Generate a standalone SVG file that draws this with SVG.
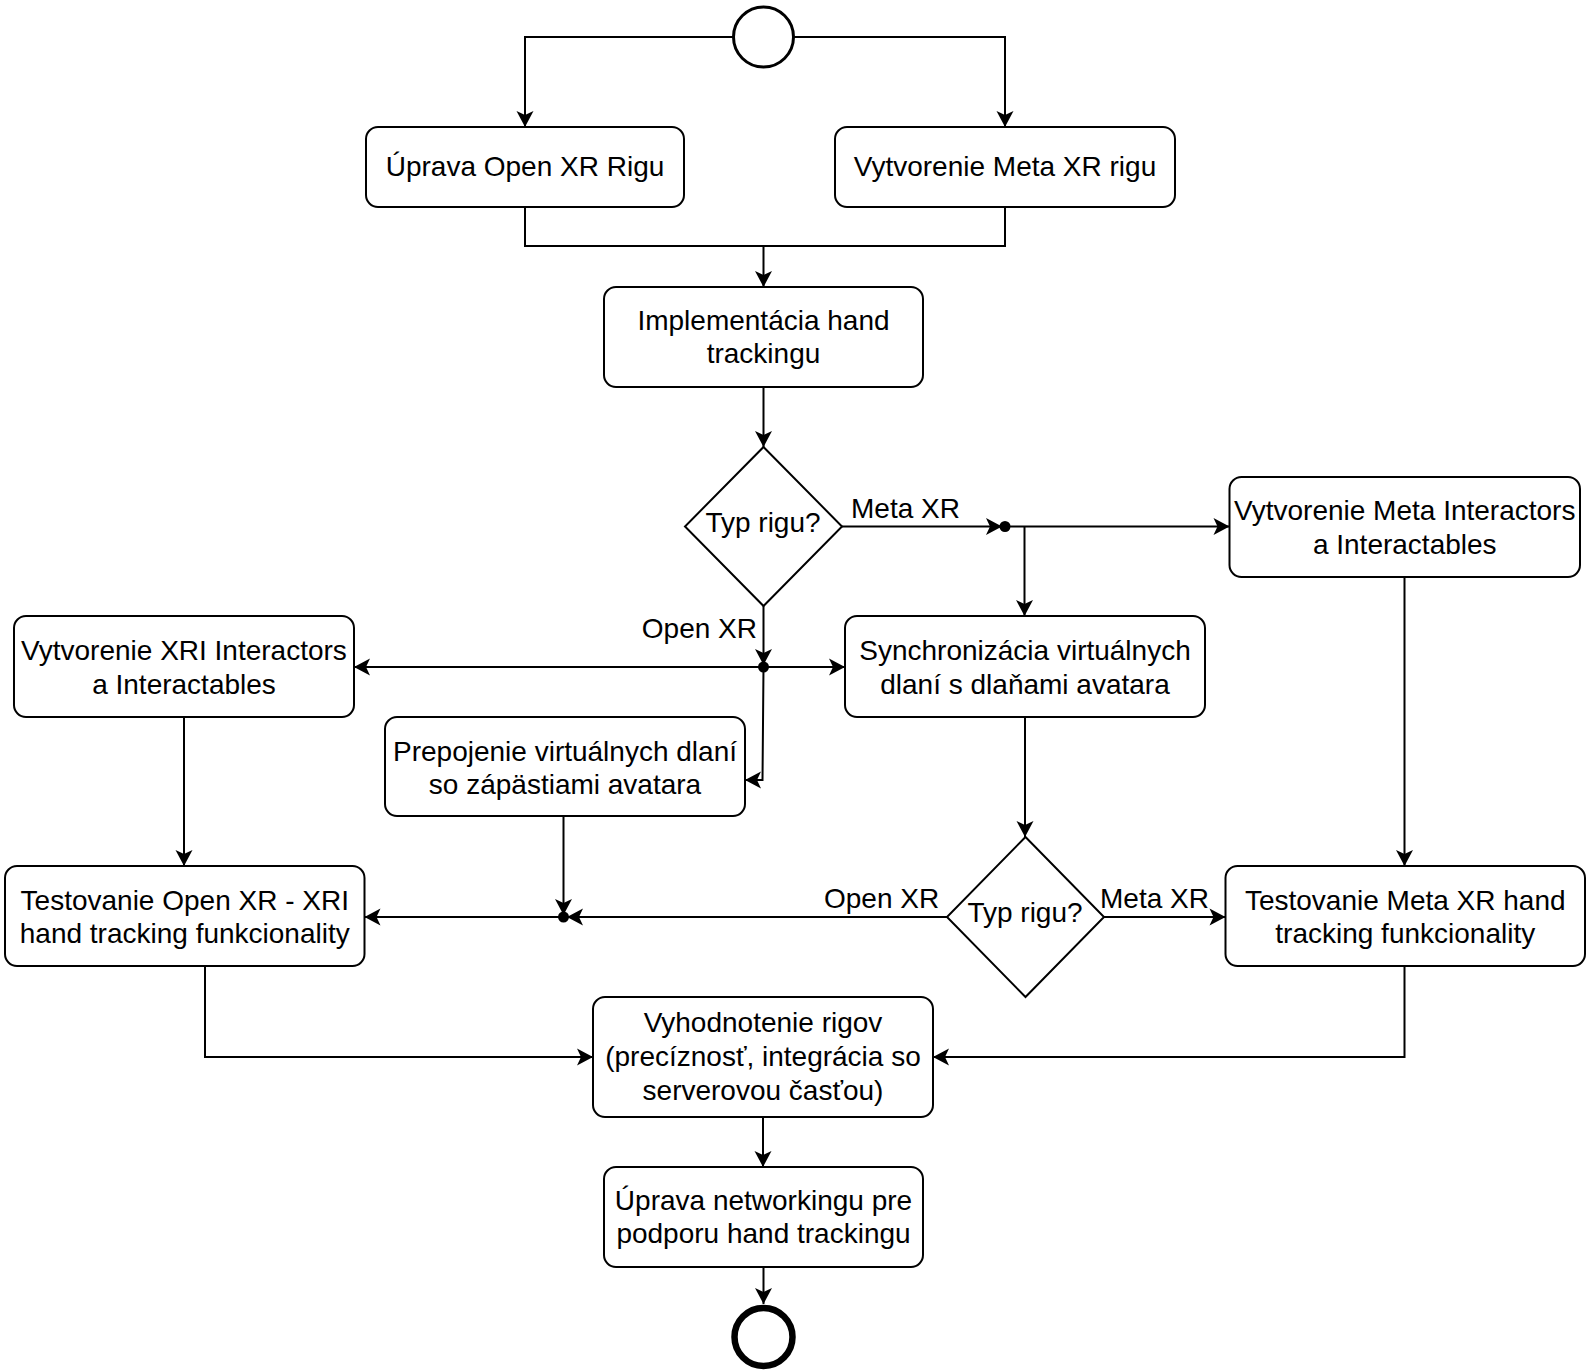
<svg xmlns="http://www.w3.org/2000/svg" width="1592" height="1372" viewBox="0 0 1592 1372">
<style>
.box{fill:#fff;stroke:#000;stroke-width:2}
.t{font-family:"Liberation Sans",Arial,sans-serif;font-size:28px;fill:#000;text-anchor:middle}
.l{font-family:"Liberation Sans",Arial,sans-serif;font-size:28px;fill:#000}
.c{fill:none;stroke:#000;stroke-width:2}
</style>
<defs>
<marker id="arr" viewBox="-17 -9 18 18" refX="0" refY="0" markerWidth="18" markerHeight="18" markerUnits="userSpaceOnUse" orient="auto">
<path d="M0,0 L-16,-8.5 L-12,0 L-16,8.5 Z" fill="#000"/>
</marker>
</defs>
<rect width="1592" height="1372" fill="#fff"/>
<g id="connectors">
<path class="c" d="M733.5,37 H525 V127" marker-end="url(#arr)"/>
<path class="c" d="M793.5,37 H1005 V127" marker-end="url(#arr)"/>
<path class="c" d="M525,207 V246 H1005 V207"/>
<path class="c" d="M763.5,246 V287" marker-end="url(#arr)"/>
<path class="c" d="M763.5,387 V447" marker-end="url(#arr)"/>
<path class="c" d="M842,526.5 H1002" marker-end="url(#arr)"/>
<path class="c" d="M1005,526.5 H1229.5" marker-end="url(#arr)"/>
<path class="c" d="M1024.5,526.5 V616" marker-end="url(#arr)"/>
<path class="c" d="M763.5,606 V665" marker-end="url(#arr)"/>
<path class="c" d="M763.5,667 H354" marker-end="url(#arr)"/>
<path class="c" d="M763.5,667 H845" marker-end="url(#arr)"/>
<path class="c" d="M763.5,667 L762.5,780 H745" marker-end="url(#arr)"/>
<path class="c" d="M1404.5,577 V866" marker-end="url(#arr)"/>
<path class="c" d="M1025,717 V837" marker-end="url(#arr)"/>
<path class="c" d="M1104,917 H1225.5" marker-end="url(#arr)"/>
<path class="c" d="M947,917 H567" marker-end="url(#arr)"/>
<path class="c" d="M563.5,816 V915" marker-end="url(#arr)"/>
<path class="c" d="M563.5,917 H364.5" marker-end="url(#arr)"/>
<path class="c" d="M184,717 V866" marker-end="url(#arr)"/>
<path class="c" d="M205,966 V1057 H593" marker-end="url(#arr)"/>
<path class="c" d="M1404.5,966 V1057 H933" marker-end="url(#arr)"/>
<path class="c" d="M763,1117 V1167" marker-end="url(#arr)"/>
<path class="c" d="M763.5,1267 V1304" marker-end="url(#arr)"/>
<circle cx="1005" cy="526.5" r="5.5" fill="#000"/>
<circle cx="763.5" cy="667" r="5.5" fill="#000"/>
<circle cx="563.5" cy="917" r="5.5" fill="#000"/>
<text class="l" x="851" y="518">Meta XR</text>
<text class="l" x="757" y="638" text-anchor="end">Open XR</text>
<text class="l" x="824" y="908">Open XR</text>
<text class="l" x="1100" y="908">Meta XR</text>
</g>
<g id="start"><circle cx="763.5" cy="37" r="30" fill="#fff" stroke="#000" stroke-width="3"/></g>
<g id="n1"><rect class="box" x="366" y="127" width="318" height="80" rx="12"/><text class="t" x="525" y="176">Úprava Open XR Rigu</text></g>
<g id="n2"><rect class="box" x="835" y="127" width="340" height="80" rx="12"/><text class="t" x="1005" y="176">Vytvorenie Meta XR rigu</text></g>
<g id="n3"><rect class="box" x="604" y="287" width="319" height="100" rx="12"/><text class="t" x="763.5" y="329.5">Implementácia hand</text><text class="t" x="763.5" y="363">trackingu</text></g>
<g id="d1"><polygon class="box" points="763.5,447 842,526.5 763.5,606 685,526.5"/><text class="t" x="763" y="532">Typ rigu?</text></g>
<g id="n4"><rect class="box" x="1229.5" y="477" width="350.5" height="100" rx="12"/><text class="t" x="1404.75" y="520">Vytvorenie Meta Interactors</text><text class="t" x="1404.75" y="553.5">a Interactables</text></g>
<g id="n5"><rect class="box" x="14" y="616" width="340" height="101" rx="12"/><text class="t" x="184" y="660">Vytvorenie XRI Interactors</text><text class="t" x="184" y="693.5">a Interactables</text></g>
<g id="n6"><rect class="box" x="845" y="616" width="360" height="101" rx="12"/><text class="t" x="1025" y="660">Synchronizácia virtuálnych</text><text class="t" x="1025" y="693.5">dlaní s dlaňami avatara</text></g>
<g id="n7"><rect class="box" x="385" y="717" width="360" height="99" rx="12"/><text class="t" x="565" y="760.5">Prepojenie virtuálnych dlaní</text><text class="t" x="565" y="794">so zápästiami avatara</text></g>
<g id="n8"><rect class="box" x="5" y="866" width="359.5" height="100" rx="12"/><text class="t" x="184.75" y="909.5">Testovanie Open XR - XRI</text><text class="t" x="184.75" y="943">hand tracking funkcionality</text></g>
<g id="d2"><polygon class="box" points="1025.5,837 1104,917 1025.5,997 947,917"/><text class="t" x="1025" y="921.5">Typ rigu?</text></g>
<g id="n9"><rect class="box" x="1225.5" y="866" width="359.5" height="100" rx="12"/><text class="t" x="1405.25" y="909.5">Testovanie Meta XR hand</text><text class="t" x="1405.25" y="943">tracking funkcionality</text></g>
<g id="n10"><rect class="box" x="593" y="997" width="340" height="120" rx="12"/><text class="t" x="763" y="1032">Vyhodnotenie rigov</text><text class="t" x="763" y="1066">(precíznosť, integrácia so</text><text class="t" x="763" y="1099.5">serverovou časťou)</text></g>
<g id="n11"><rect class="box" x="604" y="1167" width="319" height="100" rx="12"/><text class="t" x="763.5" y="1209.5">Úprava networkingu pre</text><text class="t" x="763.5" y="1243">podporu hand trackingu</text></g>
<g id="end"><circle cx="763.5" cy="1337" r="29" fill="#fff" stroke="#000" stroke-width="6.5"/></g>
</svg>
